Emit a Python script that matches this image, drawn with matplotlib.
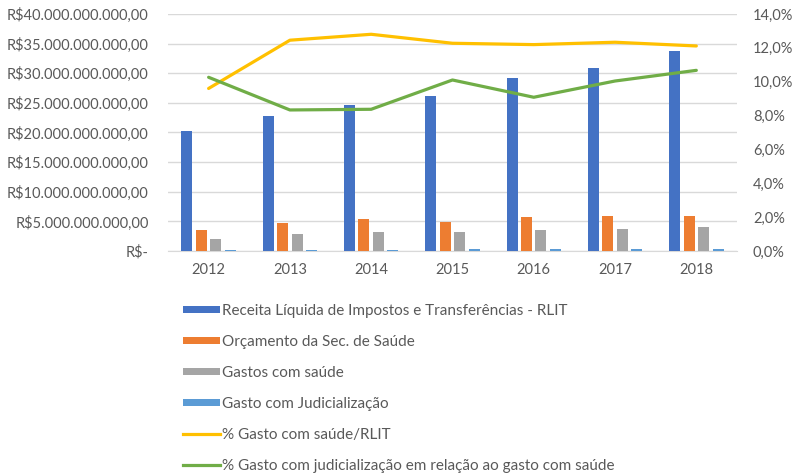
import numpy as np
import matplotlib
matplotlib.use("Agg")
import matplotlib.pyplot as plt
from matplotlib.patches import Patch
from matplotlib.lines import Line2D
from matplotlib.ticker import FuncFormatter

# ===== Data =====
years = ["2012", "2013", "2014", "2015", "2016", "2017", "2018"]

# Values in R$ billions (scaled to R$ below)
rlit = [20.3, 22.8, 24.7, 26.2, 29.2, 30.9, 33.7]
orcamento_saude = [3.6, 4.7, 5.4, 4.95, 5.7, 5.85, 5.97]
gastos_saude = [2.0, 2.9, 3.15, 3.15, 3.5, 3.77, 4.05]
gasto_judicializacao = [0.22, 0.24, 0.25, 0.33, 0.33, 0.35, 0.37]

# Percentages (right axis)
pct_saude_rlit = [9.6, 12.45, 12.8, 12.27, 12.19, 12.33, 12.11]
pct_judic_saude = [10.26, 8.33, 8.37, 10.1, 9.08, 10.04, 10.67]

bar_series = [
    ("Receita Líquida de Impostos e Transferências - RLIT", rlit, "#4472C4"),
    ("Orçamento da Sec. de Saúde", orcamento_saude, "#ED7D31"),
    ("Gastos com saúde", gastos_saude, "#A5A5A5"),
    ("Gasto com Judicialização", gasto_judicializacao, "#5B9BD5"),
]
line_series = [
    ("% Gasto com saúde/RLIT", pct_saude_rlit, "#FFC000"),
    ("% Gasto com judicialização em relação ao gasto com saúde", pct_judic_saude, "#70AD47"),
]

TEXT_COLOR = "#595959"
GRID_COLOR = "#D9D9D9"

plt.rcParams["font.family"] = ["Lato", "DejaVu Sans"]


def brl(value, _pos):
    if value == 0:
        return "R$-"
    s = f"{value:,.2f}"
    s = s.replace(",", "X").replace(".", ",").replace("X", ".")
    return "R$" + s


def pct(value, _pos):
    return f"{value:.1f}%".replace(".", ",")


fig = plt.figure(figsize=(7.98, 4.75), dpi=100)
ax = fig.add_axes([0.2105, 0.4716, 0.713, 0.499])

x = np.arange(len(years))
bar_w = 0.135
step = 0.178
offsets = (np.arange(4) - 1.5) * step

for (label, vals, color), off in zip(bar_series, offsets):
    ax.bar(x + off, np.array(vals) * 1e9, width=bar_w, color=color,
           zorder=3, label=label)

ax.set_xlim(-0.5, len(years) - 0.5)
ax.set_ylim(0, 40e9)
ax.set_yticks(np.arange(0, 40.1e9, 5e9))
ax.yaxis.set_major_formatter(FuncFormatter(brl))
ax.set_xticks(x)
ax.set_xticklabels(years)
ax.grid(axis="y", color=GRID_COLOR, linewidth=1, zorder=0)
ax.set_axisbelow(True)
for side in ["top", "right", "left"]:
    ax.spines[side].set_visible(False)
ax.spines["bottom"].set_color(GRID_COLOR)
ax.tick_params(axis="both", length=0, labelsize=10.5, colors=TEXT_COLOR)
ax.tick_params(axis="y", pad=14)
ax.tick_params(axis="x", pad=9)

ax2 = ax.twinx()
for label, vals, color in line_series:
    ax2.plot(x, vals, color=color, linewidth=2.3, solid_capstyle="round", label=label)
ax2.set_ylim(0, 14)
ax2.set_yticks(np.arange(0, 14.1, 2))
ax2.yaxis.set_major_formatter(FuncFormatter(pct))
ax2.tick_params(axis="y", length=0, labelsize=10.5, colors=TEXT_COLOR, pad=11.5)
for side in ["top", "right", "left", "bottom"]:
    ax2.spines[side].set_visible(False)

# Legend below the chart, one entry per row
handles = [Patch(facecolor=c, edgecolor="none") for _, _, c in bar_series]
handles += [Line2D([0], [0], color=c, linewidth=2.3) for _, _, c in line_series]
labels = [s[0] for s in bar_series] + [s[0] for s in line_series]
leg = fig.legend(handles, labels, loc="upper left", bbox_to_anchor=(0.229, 0.36),
                 frameon=False, ncol=1, fontsize=11, labelspacing=1.11,
                 handlelength=2.42, handleheight=0.4, handletextpad=0.12,
                 borderpad=0, borderaxespad=0)
for t in leg.get_texts():
    t.set_color(TEXT_COLOR)

fig.savefig("out.png", dpi=100)
